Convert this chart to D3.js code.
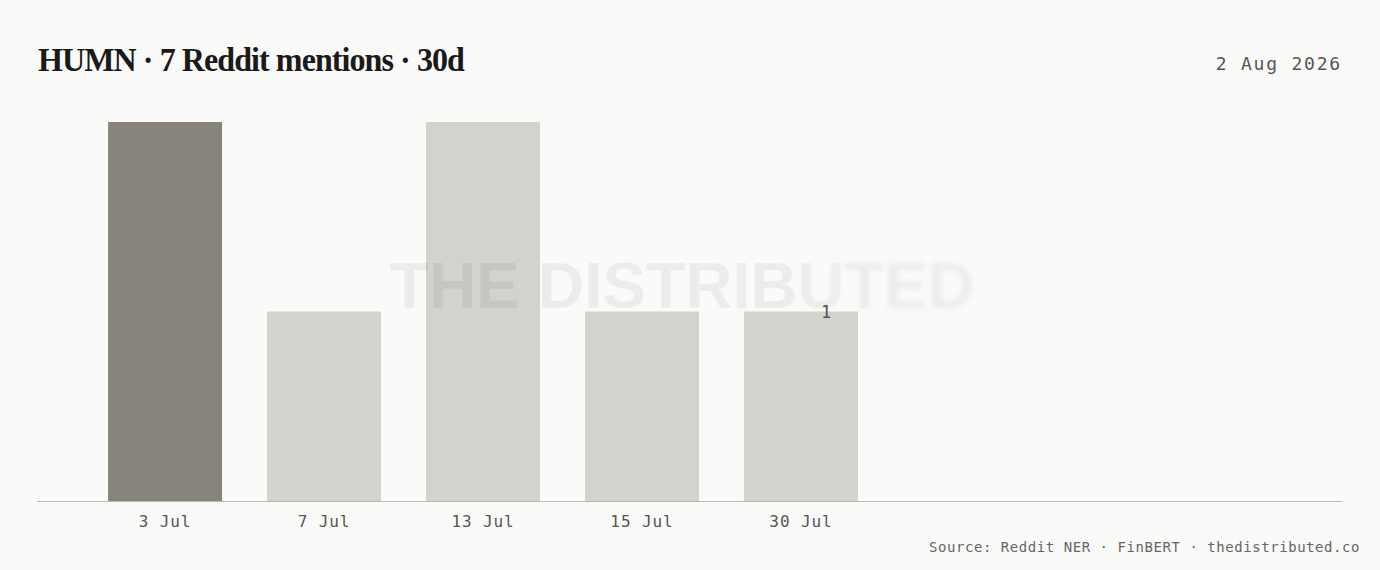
<!DOCTYPE html>
<html>
<head>
<meta charset="utf-8">
<script src="https://cdn.jsdelivr.net/npm/d3@7"></script>
<style>
    body { margin: 0; background: #fafaf9; }
    svg { display: block; }
</style>
</head>
<body>
<svg id="chart"></svg>
<script>
// data
const days = ["3 Jul", "7 Jul", "13 Jul", "15 Jul", "30 Jul"];
const mentions = [2, 1, 2, 1, 1];
const highlightDay = "3 Jul";
const labelDay = "30 Jul";
const titleText = "HUMN · 7 Reddit mentions · 30d";
const dateText = "2 Aug 2026";
const sourceText = "Source: Reddit NER · FinBERT · thedistributed.co";

class MentionsChart {

    margin = {
        top: 122, right: 38, bottom: 69, left: 37
    }

    constructor(selector) {
        this.selector = selector;
        this.width = 1380;
        this.height = 570;
    }

    initialize() {
        this.svg = d3.select(this.selector)
            .attr("width", this.width)
            .attr("height", this.height);

        this.innerH = this.height - this.margin.top - this.margin.bottom;
        this.innerW = this.width - this.margin.left - this.margin.right;

        this.data = days.map((d, i) => ({ day: d, value: mentions[i] }));

        // bars only take the left part of the axis
        this.xScale = d3.scaleBand()
            .domain(days)
            .range([this.margin.left, this.margin.left + 892])
            .paddingInner(0.283)
            .paddingOuter(0.447);
        this.yScale = d3.scaleLinear()
            .domain([0, d3.max(mentions)])
            .range([this.margin.top + this.innerH, this.margin.top]);

        this.drawBars();
        this.drawWatermark();
        this.drawAxis();
        this.drawText();
    }

    drawBars() {
        this.svg.append("g").selectAll("rect")
            .data(this.data)
            .join("rect")
            .attr("x", d => this.xScale(d.day))
            .attr("y", d => this.yScale(d.value))
            .attr("width", this.xScale.bandwidth())
            .attr("height", d => this.yScale(0) - this.yScale(d.value))
            .attr("fill", d => d.day === highlightDay ? "#89847b" : "#d3d2ce");

        const last = this.data.find(d => d.day === labelDay);
        this.svg.append("text")
            .attr("x", this.xScale(labelDay) + this.xScale.bandwidth() * 0.72)
            .attr("y", this.yScale(last.value) + 1)
            .attr("text-anchor", "middle")
            .attr("dominant-baseline", "middle")
            .style("font-family", "'DejaVu Sans Mono', monospace")
            .style("font-size", "17px")
            .style("fill", "#555")
            .text(last.value);
    }

    drawWatermark() {
        const defs = this.svg.append("defs");
        defs.append("filter").attr("id", "wm-blur")
            .append("feGaussianBlur").attr("stdDeviation", 2.5);

        const grad = defs.append("linearGradient")
            .attr("id", "wm-grad")
            .attr("gradientUnits", "userSpaceOnUse")
            .attr("x1", 780).attr("x2", 880).attr("y1", 0).attr("y2", 0);
        grad.append("stop").attr("offset", 0).attr("stop-color", "#fff");
        grad.append("stop").attr("offset", 1).attr("stop-color", "#000");
        const gradInv = defs.append("linearGradient")
            .attr("id", "wm-grad-inv")
            .attr("gradientUnits", "userSpaceOnUse")
            .attr("x1", 780).attr("x2", 880).attr("y1", 0).attr("y2", 0);
        gradInv.append("stop").attr("offset", 0).attr("stop-color", "#000");
        gradInv.append("stop").attr("offset", 1).attr("stop-color", "#fff");

        defs.append("mask").attr("id", "wm-mask")
            .append("rect").attr("width", this.width).attr("height", this.height)
            .attr("fill", "url(#wm-grad)");
        defs.append("mask").attr("id", "wm-mask-inv")
            .append("rect").attr("width", this.width).attr("height", this.height)
            .attr("fill", "url(#wm-grad-inv)");

        const wm = (g) => g.append("text")
            .attr("x", 682)
            .attr("y", 308)
            .attr("text-anchor", "middle")
            .style("font-family", "'Liberation Sans', Arial, sans-serif")
            .style("font-weight", "bold")
            .style("font-size", "65px")
            .style("fill", "#000")
            .style("fill-opacity", 0.055)
            .text("THE DISTRIBUTED");

        wm(this.svg.append("g").attr("mask", "url(#wm-mask)"));
        wm(this.svg.append("g").attr("mask", "url(#wm-mask-inv)"))
            .attr("filter", "url(#wm-blur)");
    }

    drawAxis() {
        const axis = this.svg.append("g")
            .attr("transform", `translate(0, ${this.yScale(0)})`);

        axis.append("line")
            .attr("x1", this.margin.left)
            .attr("x2", this.width - this.margin.right)
            .attr("y1", 0.5).attr("y2", 0.5)
            .attr("stroke", "#b9b8b4")
            .attr("stroke-width", 1.2);

        axis.selectAll("text")
            .data(days)
            .join("text")
            .attr("x", d => this.xScale(d) + this.xScale.bandwidth() / 2)
            .attr("y", 26)
            .attr("text-anchor", "middle")
            .style("font-family", "'DejaVu Sans Mono', monospace")
            .style("font-size", "16px")
            .style("letter-spacing", "0.9px")
            .style("fill", "#555")
            .text(d => d);
    }

    drawText() {
        this.svg.append("text")
            .attr("x", 38)
            .attr("y", 71)
            .attr("textLength", 426)
            .attr("lengthAdjust", "spacingAndGlyphs")
            .style("font-family", "'Liberation Serif', 'DejaVu Serif', serif")
            .style("font-weight", "bold")
            .style("font-size", "34px")
            .style("letter-spacing", "-1px")
            .style("fill", "#1a1a1a")
            .text(titleText);

        this.svg.append("text")
            .attr("x", 1342)
            .attr("y", 70)
            .attr("text-anchor", "end")
            .style("font-family", "'DejaVu Sans Mono', monospace")
            .style("font-size", "18px")
            .style("letter-spacing", "1.8px")
            .style("fill", "#555")
            .text(dateText);

        this.svg.append("text")
            .attr("x", 1360)
            .attr("y", 552)
            .attr("text-anchor", "end")
            .style("font-family", "'DejaVu Sans Mono', monospace")
            .style("font-size", "14px")
            .style("letter-spacing", "0.55px")
            .style("fill", "#666")
            .text(sourceText);
    }
}

const chart = new MentionsChart("#chart");
chart.initialize();
</script>
</body>
</html>
